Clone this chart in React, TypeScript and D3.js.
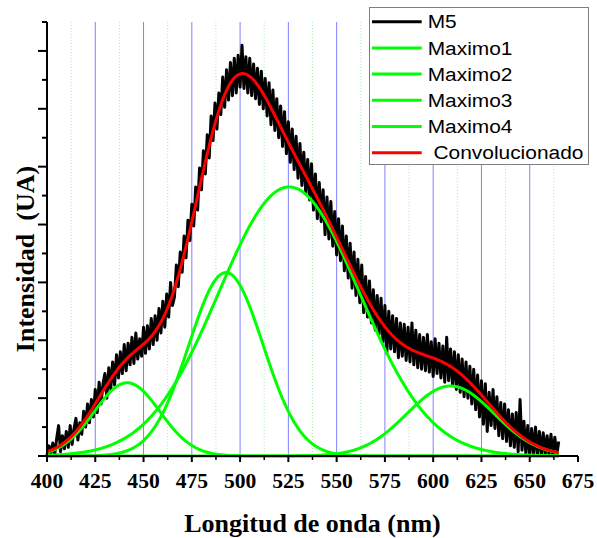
import React from "react";
import * as d3 from "d3";

// M5 measured spectrum, one value per nm starting at 400 nm
const m5Start = 400;
const m5Values = [
  0.02, 0.35, 0.10, 0.45, 0.05, 0.60, 1.05, 0.15, 0.70, 0.25,
  0.85, 0.30, 1.05, 0.40, 0.95, 1.30, 0.55, 1.15, 0.75, 1.55,
  1.00, 1.80, 1.15, 1.95, 1.35, 2.30, 1.50, 2.55, 1.80, 2.50,
  2.85, 2.00, 3.05, 2.30, 3.25, 2.45, 3.50, 2.70, 3.60, 2.85,
  3.85, 2.95, 3.90, 3.15, 4.10, 3.20, 4.25, 3.35, 4.05, 3.45,
  4.45, 3.55, 4.50, 3.70, 4.75, 3.85, 4.85, 4.00, 5.10, 4.25,
  5.35, 4.45, 5.60, 4.80, 6.00, 5.20, 5.50, 6.60, 5.85, 7.05,
  6.35, 7.60, 6.85, 8.15, 7.45, 8.70, 7.95, 9.30, 8.50, 9.95,
  9.20, 10.55, 9.75, 11.10, 10.30, 11.75, 10.90, 12.20, 11.30, 12.55,
  11.80, 13.10, 12.05, 13.35, 12.30, 13.60, 12.45, 13.75, 12.55, 13.85,
  12.75, 14.20, 12.70, 13.80, 12.55, 13.75, 12.45, 13.55, 12.35, 13.40,
  12.15, 13.30, 12.00, 13.05, 11.75, 12.90, 11.45, 12.65, 11.25, 12.35,
  11.00, 12.10, 10.70, 11.90, 10.45, 11.55, 10.15, 11.30, 9.90, 11.05,
  9.60, 10.80, 9.35, 10.50, 9.10, 10.25, 8.85, 10.10, 8.50, 9.75,
  8.20, 9.45, 8.10, 9.20, 7.65, 8.95, 7.50, 8.80, 7.25, 8.45,
  6.95, 8.20, 6.75, 7.95, 6.40, 7.60, 6.15, 7.35, 5.80, 7.05,
  5.55, 6.80, 5.30, 6.60, 4.95, 6.20, 4.80, 6.05, 4.60, 5.75,
  4.35, 5.55, 4.20, 5.45, 3.95, 5.20, 3.55, 5.00, 3.70, 4.85,
  3.60, 4.75, 3.40, 4.60, 3.45, 4.55, 3.30, 4.45, 3.25, 4.60,
  3.15, 4.35, 3.05, 4.20, 3.00, 4.10, 2.95, 4.20, 2.90, 3.95,
  2.75, 4.05, 2.85, 3.90, 2.70, 3.80, 2.55, 4.10, 2.60, 3.70,
  2.45, 3.60, 2.30, 3.50, 2.20, 3.35, 2.05, 3.25, 2.00, 3.10,
  1.80, 3.00, 1.60, 2.80, 1.35, 2.60, 1.10, 2.50, 0.85, 2.20,
  1.05, 2.30, 0.95, 2.05, 0.70, 1.85, 0.60, 1.80, 0.50, 1.60,
  0.35, 1.45, 0.30, 1.50, 0.15, 1.95, 0.20, 1.20, 0.05, 1.05,
  0.02, 0.95, 0.05, 1.00, 0.02, 0.85, 0.05, 0.80, 0.02, 0.70,
  0.02, 0.75, 0.00, 0.65, 0.02, 0.50,
];

// Gaussian peak parameters (fit components)
const peakNames = ["Maximo1", "Maximo2", "Maximo3", "Maximo4"];
const peakCenters = [441.5, 492.7, 525.4, 609];
const peakHeights = [2.53, 6.34, 9.3, 2.42];
const peakSigmas = [17, 19.2, 36.5, 22.5];
const fitRange = [400, 665];

const xTickValues = [400, 425, 450, 475, 500, 525, 550, 575, 600, 625, 650, 675];
const xMinorTicks = [412.5, 437.5, 462.5, 487.5, 512.5, 537.5, 562.5, 587.5, 612.5, 637.5, 662.5];
const xGridMajor = [425, 450, 475, 500, 525, 550, 575, 600, 625, 650];
const xGridMinor = [412.5, 437.5, 462.5, 487.5, 512.5, 537.5, 562.5, 587.5, 612.5, 637.5, 662.5];
const yMajorTicks = [0, 2, 4, 6, 8, 10, 12, 14];
const yMinorTicks = [1, 3, 5, 7, 9, 11, 13, 15];

const legendLabels = ["M5", "Maximo1", "Maximo2", "Maximo3", "Maximo4", " Convolucionado"];
const legendColors = ["#000000", "#00ff00", "#00ff00", "#00ff00", "#00ff00", "#ff0000"];

const W = 597;
const H = 538;

export default function App() {
  const x = d3.scaleLinear().domain([400, 675]).range([47, 578]);
  const y = d3.scaleLinear().domain([0, 15]).range([456, 22]);

  const m5 = m5Values.map((v, i) => [m5Start + i, v] as [number, number]);
  const grid = d3.range(fitRange[0], fitRange[1] + 0.001, 0.5);
  const gauss = (k: number, w: number) =>
    peakHeights[k] * Math.exp(-((w - peakCenters[k]) ** 2) / (2 * peakSigmas[k] ** 2));
  const peaks = peakNames.map((_, k) => grid.map((w) => [w, gauss(k, w)] as [number, number]));
  const conv = grid.map((w) => [w, d3.sum(peakNames, (_, k) => gauss(k, w))] as [number, number]);

  const line = d3
    .line<[number, number]>()
    .x((d) => x(d[0]))
    .y((d) => y(d[1]));

  const serif = "'Liberation Serif', 'Times New Roman', serif";
  const sans = "'Liberation Sans', Arial, sans-serif";

  return (
    <svg
      width={W}
      height={H}
      style={{ position: "absolute", left: 0, top: 0, background: "#fff" }}
    >
      {/* grid */}
      {xGridMinor.map((g) => (
        <line key={"gm" + g} x1={x(g)} x2={x(g)} y1={y(15)} y2={y(0)}
          stroke="#a8eea8" strokeWidth={1} strokeDasharray="1,2" />
      ))}
      {xGridMajor.map((g) => (
        <line key={"gM" + g} x1={x(g)} x2={x(g)} y1={y(15)} y2={y(0)}
          stroke="#8080ff" strokeWidth={1} />
      ))}

      {/* data */}
      <path d={line(m5) || ""} fill="none" stroke="#000" strokeWidth={3} strokeLinejoin="round" />
      {peaks.map((p, k) => (
        <path key={"p" + k} d={line(p) || ""} fill="none" stroke="#00ff00" strokeWidth={3} />
      ))}
      <path d={line(conv) || ""} fill="none" stroke="#ff0000" strokeWidth={3} />

      {/* axes */}
      <line x1={x(400)} x2={x(675)} y1={y(0)} y2={y(0)} stroke="#000" strokeWidth={2} />
      <line x1={x(400)} x2={x(400)} y1={y(15)} y2={y(0)} stroke="#000" strokeWidth={2} />
      {xTickValues.map((t) => (
        <line key={"xt" + t} x1={x(t)} x2={x(t)} y1={y(0)} y2={y(0) + 6} stroke="#000" strokeWidth={2} />
      ))}
      {xMinorTicks.map((t) => (
        <line key={"xm" + t} x1={x(t)} x2={x(t)} y1={y(0)} y2={y(0) + 4} stroke="#000" strokeWidth={1.5} />
      ))}
      {yMajorTicks.map((t) => (
        <line key={"yt" + t} x1={x(400) - 9} x2={x(400)} y1={y(t)} y2={y(t)} stroke="#000" strokeWidth={2} />
      ))}
      {yMinorTicks.map((t) => (
        <line key={"ym" + t} x1={x(400) - 5} x2={x(400)} y1={y(t)} y2={y(t)} stroke="#000" strokeWidth={2} />
      ))}
      {xTickValues.map((t) => (
        <text key={"xl" + t} transform={`translate(${x(t)},488) scale(1.08,1)`} textAnchor="middle"
          fontFamily={serif} fontWeight="bold" fontSize={20} fill="#000">{t}</text>
      ))}

      {/* titles */}
      <text x={312.5} y={532} textAnchor="middle" fontFamily={serif} fontWeight="bold" fontSize={26} fill="#000">
        Longitud de onda (nm)
      </text>
      <text transform="translate(34,259) rotate(-90)" textAnchor="middle" fontFamily={serif}
        fontWeight="bold" fontSize={26} fill="#000" style={{ whiteSpace: "pre" }}>
        {"Intensidad  (UA)"}
      </text>

      {/* legend */}
      <rect x={369.5} y={7.5} width={219} height={157} fill="#fff" stroke="#7f7f7f" strokeWidth={1} />
      {legendLabels.map((lab, i) => {
        const cy = 21.7 + i * 26.2;
        return (
          <g key={"lg" + i}>
            <line x1={372} x2={421.7} y1={cy} y2={cy} stroke={legendColors[i]} strokeWidth={3} />
            <text transform={`translate(427.7,${cy + 6.7}) scale(1.1,1)`} fontFamily={sans} fontSize={19}
              fill="#000" style={{ whiteSpace: "pre" }}>{lab}</text>
          </g>
        );
      })}
    </svg>
  );
}
